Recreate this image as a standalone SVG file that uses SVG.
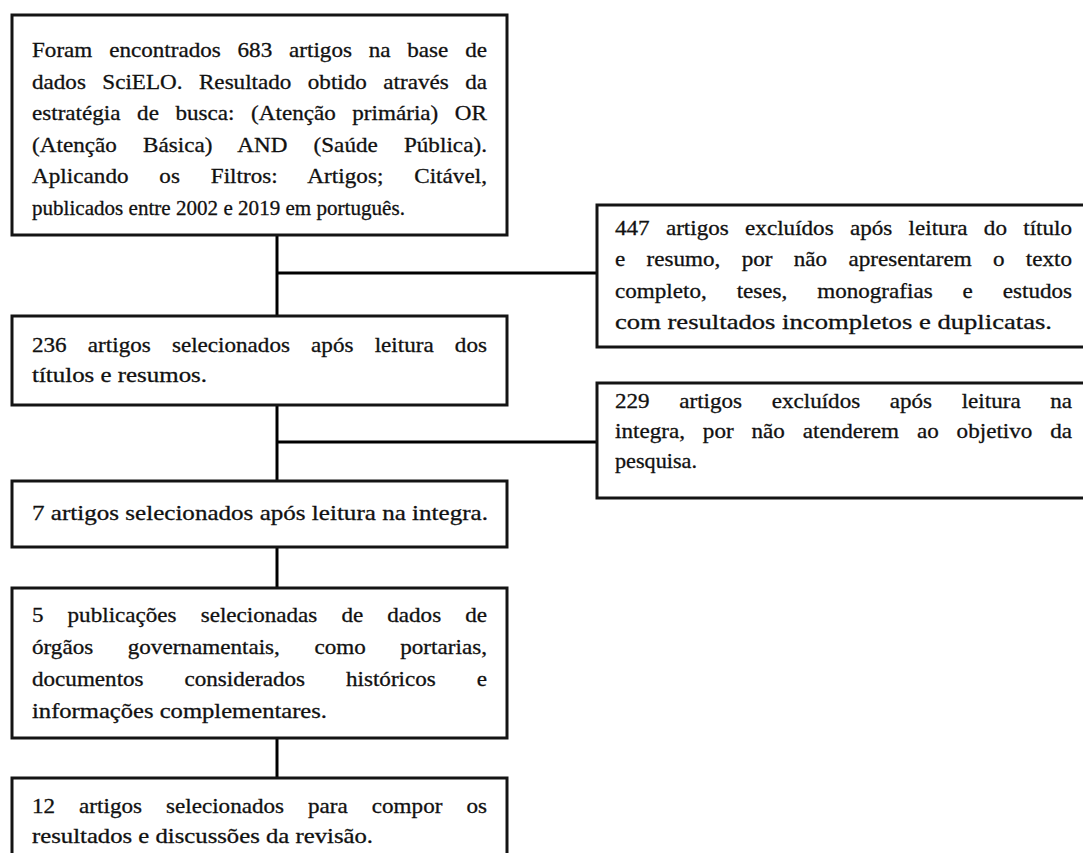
<svg xmlns="http://www.w3.org/2000/svg" width="1083" height="853" viewBox="0 0 1083 853">
<style>
.box{fill:#fff;stroke:#141414;stroke-width:3}
.con{stroke:#000;stroke-width:3;fill:none}
.t{font-family:"Liberation Serif","Times New Roman",serif;font-size:21px;fill:#111;stroke:#111;stroke-width:0.3}
</style>
<rect width="1083" height="853" fill="#fff"/>
<g id="connectors">
<line class="con" x1="277" y1="235" x2="277" y2="316"/>
<line class="con" x1="277" y1="273" x2="597" y2="273"/>
<line class="con" x1="277" y1="405" x2="277" y2="481"/>
<line class="con" x1="277" y1="442" x2="597" y2="442"/>
<line class="con" x1="277" y1="547" x2="277" y2="588"/>
<line class="con" x1="277" y1="738" x2="277" y2="778"/>
</g>
<g id="n1">
<rect class="box" x="12" y="15" width="495" height="220"/>
<g transform="translate(32,0) scale(1.1,1)">
<text class="t" x="0" y="57" word-spacing="10" textLength="413.6" lengthAdjust="spacing">Foram encontrados 683 artigos na base de</text>
<text class="t" x="0" y="89" word-spacing="9.7" textLength="413.6" lengthAdjust="spacing">dados SciELO. Resultado obtido através da</text>
<text class="t" x="0" y="120" word-spacing="9.8" textLength="413.6" lengthAdjust="spacing">estratégia de busca: (Atenção primária) OR</text>
<text class="t" x="0" y="152" word-spacing="18.4" textLength="413.6" lengthAdjust="spacing">(Atenção Básica) AND (Saúde Pública).</text>
<text class="t" x="0" y="183" word-spacing="22.7" textLength="413.6" lengthAdjust="spacing">Aplicando os Filtros: Artigos; Citável,</text>
<text class="t" x="0" y="215" textLength="339" lengthAdjust="spacingAndGlyphs">publicados entre 2002  e 2019  em português.</text>
</g>
</g>
<g id="n2">
<rect class="box" x="597" y="205" width="500" height="142"/>
<g transform="translate(615,0) scale(1.1,1)">
<text class="t" x="0" y="235" word-spacing="9.5" textLength="415.5" lengthAdjust="spacing">447 artigos excluídos após leitura do título</text>
<text class="t" x="0" y="266" word-spacing="14.1" textLength="415.5" lengthAdjust="spacing">e resumo, por não apresentarem o texto</text>
<text class="t" x="0" y="298" word-spacing="21.9" textLength="415.5" lengthAdjust="spacing">completo, teses, monografias e estudos</text>
<text class="t" x="0" y="329" textLength="397.3" lengthAdjust="spacingAndGlyphs">com resultados incompletos e duplicatas.</text>
</g>
</g>
<g id="n3">
<rect class="box" x="12" y="316" width="495" height="89"/>
<g transform="translate(32,0) scale(1.1,1)">
<text class="t" x="0" y="352" word-spacing="14" textLength="413.6" lengthAdjust="spacing">236 artigos selecionados após leitura dos</text>
<text class="t" x="0" y="382" textLength="159.1" lengthAdjust="spacingAndGlyphs">títulos e resumos.</text>
</g>
</g>
<g id="n4">
<rect class="box" x="597" y="383" width="500" height="115"/>
<g transform="translate(615,0) scale(1.1,1)">
<text class="t" x="0" y="408" word-spacing="21.6" textLength="415.5" lengthAdjust="spacing">229 artigos excluídos após leitura na</text>
<text class="t" x="0" y="438" word-spacing="11" textLength="415.5" lengthAdjust="spacing">integra, por não atenderem ao objetivo da</text>
<text class="t" x="0" y="468" textLength="74.5" lengthAdjust="spacingAndGlyphs">pesquisa.</text>
</g>
</g>
<g id="n5">
<rect class="box" x="12" y="481" width="495" height="66"/>
<g transform="translate(32,0) scale(1.1,1)">
<text class="t" x="0" y="520" textLength="414.5" lengthAdjust="spacingAndGlyphs">7 artigos selecionados após leitura na integra.</text>
</g>
</g>
<g id="n6">
<rect class="box" x="12" y="588" width="495" height="150"/>
<g transform="translate(32,0) scale(1.1,1)">
<text class="t" x="0" y="622" word-spacing="16.6" textLength="413.6" lengthAdjust="spacing">5 publicações selecionadas de dados de</text>
<text class="t" x="0" y="654" word-spacing="26.1" textLength="413.6" lengthAdjust="spacing">órgãos governamentais, como portarias,</text>
<text class="t" x="0" y="686" word-spacing="31.9" textLength="413.6" lengthAdjust="spacing">documentos considerados históricos e</text>
<text class="t" x="0" y="718" textLength="268.2" lengthAdjust="spacingAndGlyphs">informações complementares.</text>
</g>
</g>
<g id="n7">
<rect class="box" x="12" y="778" width="495" height="95"/>
<g transform="translate(32,0) scale(1.1,1)">
<text class="t" x="0" y="813" word-spacing="16.6" textLength="413.6" lengthAdjust="spacing">12 artigos selecionados para compor os</text>
<text class="t" x="0" y="843" textLength="310" lengthAdjust="spacingAndGlyphs">resultados e discussões da revisão.</text>
</g>
</g>
</svg>
